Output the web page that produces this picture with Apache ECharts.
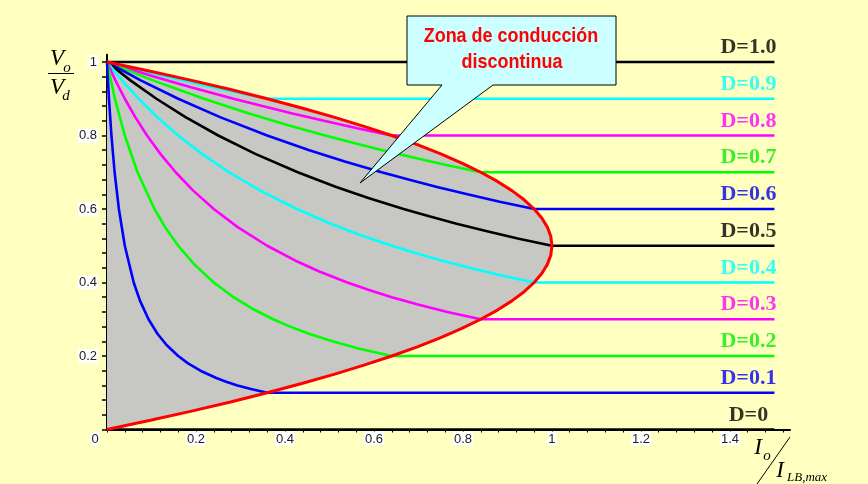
<!DOCTYPE html>
<html><head><meta charset="utf-8">
<script src="https://cdn.jsdelivr.net/npm/echarts@6/dist/echarts.min.js"></script>
<style>html,body{margin:0;padding:0;background:#FFFFC0;}#c{width:868px;height:484px;}</style>
</head><body><div id="c"></div><script>
// ---- data ----
const dutyLabels = ['D=1.0','D=0.9','D=0.8','D=0.7','D=0.6','D=0.5','D=0.4','D=0.3','D=0.2','D=0.1','D=0'];
const dutyValues = [1.0,0.9,0.8,0.7,0.6,0.5,0.4,0.3,0.2,0.1,0];
const xLineEnd = 1.5;
const xTickLabels = [0,0.2,0.4,0.6,0.8,1,1.2,1.4];
const yTickLabels = [0.2,0.4,0.6,0.8,1];
const xTicks = [0,0.04,0.08,0.12,0.16,0.2,0.24,0.28,0.32,0.36,0.4,0.44,0.48,0.52,0.56,0.6,0.64,0.68,0.72,0.76,0.8,0.84,0.88,0.92,0.96,1,1.04,1.08,1.12,1.16,1.2,1.24,1.28,1.32,1.36,1.4,1.44,1.48,1.52];
const yTicks = [0,0.04,0.08,0.12,0.16,0.2,0.24,0.28,0.32,0.36,0.4,0.44,0.48,0.52,0.56,0.6,0.64,0.68,0.72,0.76,0.8,0.84,0.88,0.92,0.96,1];

const curveD10 = [[0,1]];
const curveD09 = [[0,1],[0.0327,0.99],[0.0661,0.98],[0.1002,0.97],[0.135,0.96],[0.1705,0.95],[0.2068,0.94],[0.2439,0.93],[0.2817,0.92],[0.3204,0.91],[0.36,0.9]];
const curveD08 = [[0,1],[0.0522,0.98],[0.1067,0.96],[0.1927,0.93],[0.2844,0.9],[0.3491,0.88],[0.4167,0.86],[0.4876,0.84],[0.562,0.82],[0.64,0.8]];
const curveD07 = [[0,1],[0.1032,0.95],[0.2178,0.9],[0.3191,0.86],[0.4014,0.83],[0.49,0.8],[0.5528,0.78],[0.6189,0.76],[0.6886,0.74],[0.7622,0.72],[0.84,0.7]];
const curveD06 = [[0,1],[0.0758,0.95],[0.16,0.9],[0.2541,0.85],[0.36,0.8],[0.4547,0.76],[0.5326,0.73],[0.6171,0.7],[0.6776,0.68],[0.7418,0.66],[0.81,0.64],[0.8826,0.62],[0.96,0.6]];
const curveD05 = [[0,1],[0.0526,0.95],[0.1111,0.9],[0.1765,0.85],[0.25,0.8],[0.3333,0.75],[0.4286,0.7],[0.5152,0.66],[0.5873,0.63],[0.6667,0.6],[0.7241,0.58],[0.7857,0.56],[0.8519,0.54],[0.9231,0.52],[1,0.5]];
const curveD04 = [[0,1],[0.0337,0.95],[0.0711,0.9],[0.1129,0.85],[0.16,0.8],[0.2133,0.75],[0.2743,0.7],[0.3446,0.65],[0.4267,0.6],[0.5029,0.56],[0.5675,0.53],[0.64,0.5],[0.6933,0.48],[0.7513,0.46],[0.8145,0.44],[0.8838,0.42],[0.96,0.4]];
const curveD03 = [[0,1],[0.0189,0.95],[0.04,0.9],[0.0635,0.85],[0.09,0.8],[0.12,0.75],[0.1543,0.7],[0.1938,0.65],[0.24,0.6],[0.2945,0.55],[0.36,0.5],[0.4226,0.46],[0.4772,0.43],[0.54,0.4],[0.5874,0.38],[0.64,0.36],[0.6988,0.34],[0.765,0.32],[0.84,0.3]];
const curveD02 = [[0,1],[0.0178,0.9],[0.04,0.8],[0.0686,0.7],[0.1067,0.6],[0.1309,0.55],[0.16,0.5],[0.1956,0.45],[0.24,0.4],[0.2844,0.36],[0.3248,0.33],[0.3733,0.3],[0.4114,0.28],[0.4554,0.26],[0.5067,0.24],[0.5673,0.22],[0.64,0.2]];
const curveD01 = [[0,1],[0.0044,0.9],[0.01,0.8],[0.0171,0.7],[0.0267,0.6],[0.04,0.5],[0.06,0.4],[0.0743,0.35],[0.0933,0.3],[0.1138,0.26],[0.1339,0.23],[0.16,0.2],[0.1822,0.18],[0.21,0.16],[0.2457,0.14],[0.2677,0.13],[0.2933,0.12],[0.3236,0.11],[0.36,0.1]];
const curveD00 = [[0,0]];
const boundary = [[0,0],[0.0975,0.025],[0.19,0.05],[0.2775,0.075],[0.36,0.1],[0.4375,0.125],[0.51,0.15],[0.5775,0.175],[0.64,0.2],[0.6975,0.225],[0.75,0.25],[0.7975,0.275],[0.84,0.3],[0.8775,0.325],[0.91,0.35],[0.9375,0.375],[0.96,0.4],[0.9775,0.425],[0.99,0.45],[0.9975,0.475],[1,0.5],[0.9975,0.525],[0.99,0.55],[0.9775,0.575],[0.96,0.6],[0.9375,0.625],[0.91,0.65],[0.8775,0.675],[0.84,0.7],[0.7975,0.725],[0.75,0.75],[0.6975,0.775],[0.64,0.8],[0.5775,0.825],[0.51,0.85],[0.4375,0.875],[0.36,0.9],[0.2775,0.925],[0.19,0.95],[0.0975,0.975],[0,1]];
const dutyCurves = [curveD10,curveD09,curveD08,curveD07,curveD06,curveD05,curveD04,curveD03,curveD02,curveD01,curveD00];

// ---- styles ----
const colors = ['#000000','#00FFFF','#FF00FF','#00FF00','#0000FF','#000000','#00FFFF','#FF00FF','#00FF00','#0000FF','#000000'];
const labelColors = ['#000000','#00FFFF','#FF00FF','#00F000','#0000F0','#000000','#00FFFF','#FF00FF','#00F000','#0000F0','#000000'];
const tickFont = '"Liberation Sans", Arial, sans-serif';

const chart = echarts.init(document.getElementById('c'), null, {renderer:'canvas'});
const series = [];
series.push({type:'line', data:boundary, symbol:'none', silent:true, z:1,
  lineStyle:{width:0, opacity:0}, areaStyle:{color:'#C7C7C3', opacity:1}});
dutyCurves.forEach((c,i)=>{
  series.push({type:'line', data:c.concat([[xLineEnd, dutyValues[i]]]), symbol:'none', silent:true, z:2,
    lineStyle:{color:colors[i], width:2.6}});
});
series.push({type:'line', data:boundary, symbol:'none', silent:true, z:3, lineStyle:{color:'#FF0000', width:3}});
series.push({type:'scatter', symbolSize:1, silent:true, z:4, itemStyle:{color:'rgba(0,0,0,0)'},
  data: dutyValues.map((d,i)=>({value:[xLineEnd,d], label:{color:labelColors[i]}})),
  label:{show:true, position:'top', distance:3, offset:[-26,0], formatter:(p)=>dutyLabels[p.dataIndex],
    fontFamily:'"Liberation Serif", "Times New Roman", serif', fontWeight:'bold', fontSize:22}});

const option = {
  backgroundColor:'#FFFFC0',
  animation:false,
  grid:{left:107, right:78, top:54.65, bottom:54.5},
  xAxis:{type:'value', min:0, max:1.535, splitLine:{show:false},
    axisLine:{lineStyle:{color:'#000', width:2}},
    axisTick:{show:true, customValues:xTicks, length:3, lineStyle:{color:'#000', width:1}},
    axisLabel:{customValues:xTickLabels, margin:2,
      formatter:(v)=> v===0 ? '{t|0}{s|}{s|}{s|}' : '{t|'+v+'}',
      rich:{t:{fontFamily:tickFont, fontSize:13, color:'#222', backgroundColor:'#fff', padding:[1,1,0,1]},
            s:{width:8}}}},
  yAxis:[
    {type:'value', min:0, max:1.02, splitLine:{show:false},
     axisLine:{lineStyle:{color:'#000', width:2}},
     axisTick:{show:true, customValues:yTicks, length:5, lineStyle:{color:'#000', width:1.5}},
     axisLabel:{customValues:yTickLabels, margin:9, fontFamily:tickFont, fontSize:13, color:'#222',
       backgroundColor:'#fff', padding:[1,1,0,1]}},
    {type:'value', min:0, max:1.02, position:'left', splitLine:{show:false},
     axisLine:{show:false},
     axisTick:{show:true, inside:true, customValues:yTicks, length:5, lineStyle:{color:'#000', width:1.5}},
     axisLabel:{show:false}}
  ],
  series:series,
  graphic:[
    {type:'polygon', z:100, shape:{points:[[407,16],[616,16],[616,85],[493,85],[360,183],[442,85],[407,85]]},
     style:{fill:'#CCFFFF', stroke:'#000', lineWidth:1}},
    {type:'text', z:101, x:511, y:36, scaleX:0.855, style:{text:'Zona de conducción', fill:'#FF0000', align:'center', verticalAlign:'middle',
      font:'bold 21px "Liberation Sans", Arial, sans-serif'}},
    {type:'text', z:101, x:512, y:62, scaleX:0.855, style:{text:'discontinua', fill:'#FF0000', align:'center', verticalAlign:'middle',
      font:'bold 21px "Liberation Sans", Arial, sans-serif'}},
    {type:'text', z:101, x:57, y:59, style:{text:'V', fill:'#000', align:'center', verticalAlign:'middle', font:'italic 23px "Liberation Serif", serif'}},
    {type:'text', z:101, x:67, y:68, style:{text:'o', fill:'#000', align:'center', verticalAlign:'middle', font:'italic 15px "Liberation Serif", serif'}},
    {type:'line', z:101, shape:{x1:48, y1:73.5, x2:74, y2:73.5}, style:{stroke:'#000', lineWidth:1}},
    {type:'text', z:101, x:57, y:88, style:{text:'V', fill:'#000', align:'center', verticalAlign:'middle', font:'italic 23px "Liberation Serif", serif'}},
    {type:'text', z:101, x:66, y:96, style:{text:'d', fill:'#000', align:'center', verticalAlign:'middle', font:'italic 15px "Liberation Serif", serif'}},
    {type:'text', z:101, x:758, y:448, style:{text:'I', fill:'#000', align:'center', verticalAlign:'middle', font:'italic 23px "Liberation Serif", serif'}},
    {type:'text', z:101, x:767, y:456, style:{text:'o', fill:'#000', align:'center', verticalAlign:'middle', font:'italic 15px "Liberation Serif", serif'}},
    {type:'line', z:101, shape:{x1:790, y1:437, x2:757, y2:484}, style:{stroke:'#000', lineWidth:1}},
    {type:'text', z:101, x:780, y:471, style:{text:'I', fill:'#000', align:'center', verticalAlign:'middle', font:'italic 23px "Liberation Serif", serif'}},
    {type:'text', z:101, x:787, y:478, style:{text:'LB,max', fill:'#000', align:'left', verticalAlign:'middle', font:'italic 13px "Liberation Serif", serif'}}
  ]
};
chart.setOption(option);
</script></body></html>
